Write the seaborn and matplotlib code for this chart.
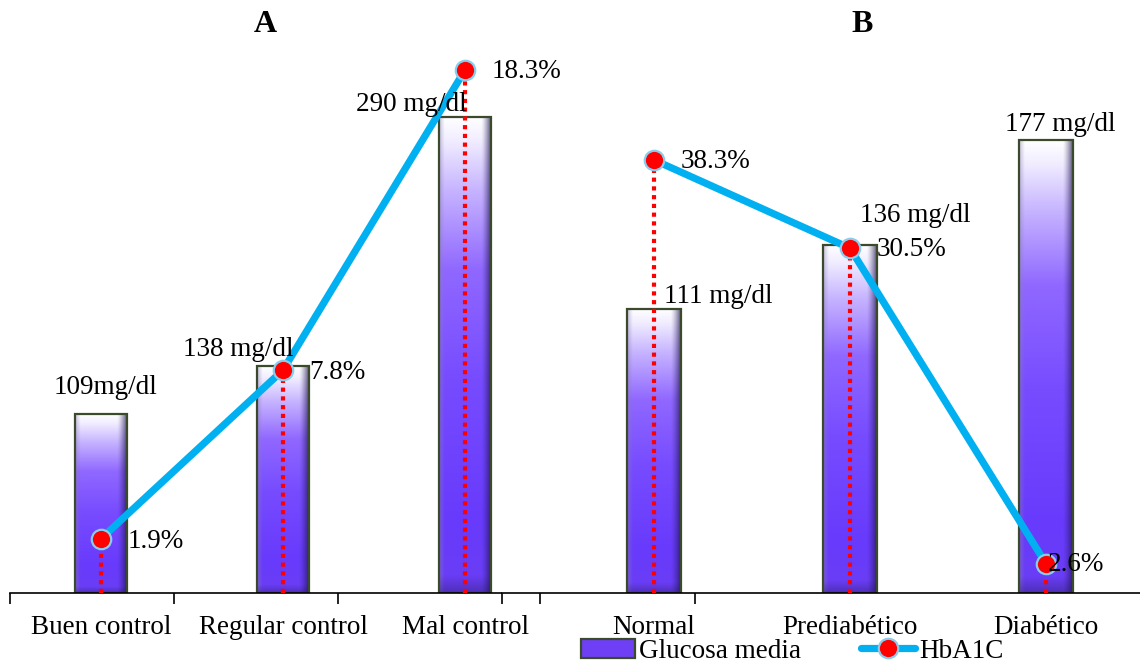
import numpy as np
import pandas as pd
import matplotlib
matplotlib.use("Agg")
import matplotlib.pyplot as plt
import seaborn as sns
from matplotlib.patches import Patch
from matplotlib.lines import Line2D
from matplotlib.colors import to_rgb

sns.set_theme(style="white")
plt.rcParams['font.family'] = ['Liberation Serif', 'DejaVu Serif']
plt.rcParams['text.color'] = 'black'
plt.rcParams['xtick.color'] = 'black'
plt.rcParams['xtick.labelcolor'] = 'black'

# Panel A: glycaemic control groups
control_cats = ["Buen control", "Regular control", "Mal control"]
control_glucose = [109, 138, 290]
control_glucose_labels = ["109mg/dl", "138 mg/dl", "290 mg/dl"]
control_hba1c = [1.9, 7.8, 18.3]

# Panel B: glycaemic status groups
status_cats = ["Normal", "Prediabético", "Diabético"]
status_glucose = [111, 136, 177]
status_glucose_labels = ["111 mg/dl", "136 mg/dl", "177 mg/dl"]
status_hba1c = [38.3, 30.5, 2.6]

LINE_BLUE = "#00b0f0"
BAR_EDGE = "#3b4a2c"
PURPLE = "#6e3ff5"
FS = 19.5


def bar_gradient(nrows=240, ncols=60):
    """RGB image giving a bevelled white-to-purple look to a bar."""
    t = np.linspace(0, 1, nrows)[:, None]
    u = np.linspace(0, 1, ncols)[None, :]
    stops = [(0.00, "#ffffff"), (0.05, "#f1edff"), (0.15, "#c8b6ff"),
             (0.32, "#9068ff"), (0.55, "#774cff"), (0.85, "#683afc"),
             (1.00, "#6a3ef4")]
    pos = [p for p, _ in stops]
    cols = np.array([to_rgb(c) for _, c in stops])
    img = np.zeros((nrows, ncols, 3))
    for k in range(3):
        img[:, :, k] = np.interp(t[:, 0], pos, cols[:, k])[:, None]
    # side bevels: faint left shade, stronger right shade, darker base
    right = np.clip((u - 0.80) / 0.20, 0, 1) ** 1.4
    left = np.clip((0.10 - u) / 0.10, 0, 1)
    bottom = np.clip((t - 0.965) / 0.035, 0, 1)
    dark = np.array(to_rgb("#1e1450"))
    grey = np.array(to_rgb("#8a80b0"))
    shade_r = (right * 0.8)[..., None]
    shade_l = (left * 0.45)[..., None]
    shade_b = (bottom * 0.35)[..., None] * np.ones_like(u)[..., None]
    img = img * (1 - shade_r) + dark * shade_r
    img = img * (1 - shade_l) + grey * shade_l
    img = img * (1 - shade_b) + dark * shade_b
    return np.clip(img, 0, 1)


GRAD = bar_gradient()


def draw_panel(ax, cats, glucose, glabels, hba1c, gmax, hmax, xlim, width,
               boundary_ticks, glabel_offsets, pct_offsets):
    df = pd.DataFrame({"grupo": cats, "glucosa": glucose, "hba1c": hba1c})
    sns.barplot(data=df, x="grupo", y="glucosa", ax=ax, width=width,
                color=PURPLE, saturation=1, edgecolor=BAR_EDGE, linewidth=1.6)
    # bevelled gradient fill clipped to each bar
    for patch in ax.patches:
        x0, y0 = patch.get_x(), patch.get_y()
        w, h = patch.get_width(), patch.get_height()
        im = ax.imshow(GRAD, extent=(x0, x0 + w, y0, y0 + h), aspect="auto",
                       zorder=1.5, interpolation="bilinear")
        im.set_clip_path(patch)
        patch.set_facecolor("none")
        patch.set_zorder(2)
    ax.set_xlim(*xlim)
    ax.set_ylim(0, gmax)
    ax.set_xlabel("")
    ax.set_ylabel("")
    ax.set_yticks([])
    for s in ("left", "right", "top"):
        ax.spines[s].set_visible(False)
    ax.spines["bottom"].set_color("black")
    ax.spines["bottom"].set_linewidth(1.2)
    ax.set_xticks(range(len(cats)), labels=cats, fontsize=FS)
    ax.set_xticks(boundary_ticks, minor=True)
    ax.tick_params(axis="x", which="major", length=0, pad=16, colors="black")
    ax.tick_params(axis="x", which="minor", length=8, width=1.2,
                   direction="out", bottom=True, color="black")
    ax.grid(False)

    # HbA1C on its own scale
    ax2 = ax.twinx()
    x = np.arange(len(cats))
    ax2.vlines(x, 0, hba1c, colors="red", linestyles=(0, (1, 1.1)),
               lw=3, zorder=2)
    sns.lineplot(x=x, y=hba1c, ax=ax2, color=LINE_BLUE, lw=5.2, marker="o",
                 markersize=14, markerfacecolor="red",
                 markeredgecolor="#86cdee", markeredgewidth=1.6, zorder=3)
    ax2.set_ylim(0, hmax)
    ax2.set_xlim(*xlim)
    ax2.set_yticks([])
    ax2.set_ylabel("")
    for s in ax2.spines.values():
        s.set_visible(False)
    ax2.grid(False)

    # labels go on the twin so they draw above the line
    to_twin = ax2.transData.inverted()
    for i, (val, lab) in enumerate(zip(glucose, glabels)):
        _, y2 = to_twin.transform(ax.transData.transform((i, val)))
        ax2.annotate(lab, (i, y2), xytext=glabel_offsets[i],
                     textcoords="offset points", ha="center", va="center",
                     fontsize=FS, color="black", zorder=5)
    for i, val in enumerate(hba1c):
        ax2.annotate(f"{val}%", (i, val), xytext=pct_offsets[i],
                     textcoords="offset points", ha="left", va="center",
                     fontsize=FS, color="black", zorder=5)


fig = plt.figure(figsize=(11.4, 6.64), dpi=100)
W, H = 1140, 664
axA = fig.add_axes([10 / W, 71 / H, 492 / W, 563 / H])
axB = fig.add_axes([502 / W, 71 / H, 638 / W, 563 / H])

draw_panel(axA, control_cats, control_glucose, control_glucose_labels,
           control_hba1c, gmax=343, hmax=19.7, xlim=(-0.5, 2.203),
           width=0.286, boundary_ticks=[-0.5, 0.40, 1.30, 2.203],
           glabel_offsets=[(3, 19), (-32, 12), (-39, 9)],
           pct_offsets=[(19, -2), (19, -2), (19, -1)])
draw_panel(axB, status_cats, status_glucose, status_glucose_labels,
           status_hba1c, gmax=220, hmax=49.8, xlim=(-0.776, 2.48),
           width=0.276, boundary_ticks=[-0.582, 0.209, 1.0],
           glabel_offsets=[(46, 9), (47, 21), (10, 11)],
           pct_offsets=[(19, -1), (19, -1), (1, -1)])

fig.text(265 / W, 1 - 25 / H, "A", fontsize=23, fontweight="bold",
         ha="center", va="center")
fig.text(862 / W, 1 - 25 / H, "B", fontsize=23, fontweight="bold",
         ha="center", va="center")

handles = [
    Patch(facecolor=PURPLE, edgecolor=BAR_EDGE, linewidth=1.6),
    Line2D([], [], color=LINE_BLUE, lw=5.2, marker="o", markersize=14,
           markerfacecolor="red", markeredgecolor="#86cdee",
           markeredgewidth=1.6),
]
fig.legend(handles, ["Glucosa media", "HbA1C"], loc="center",
           bbox_to_anchor=(792 / W, 1 - 651 / H), ncol=2, frameon=False,
           fontsize=FS, handlelength=2.0, handletextpad=0.15,
           columnspacing=2.2, borderpad=0)

fig.savefig("out.png", dpi=100)
